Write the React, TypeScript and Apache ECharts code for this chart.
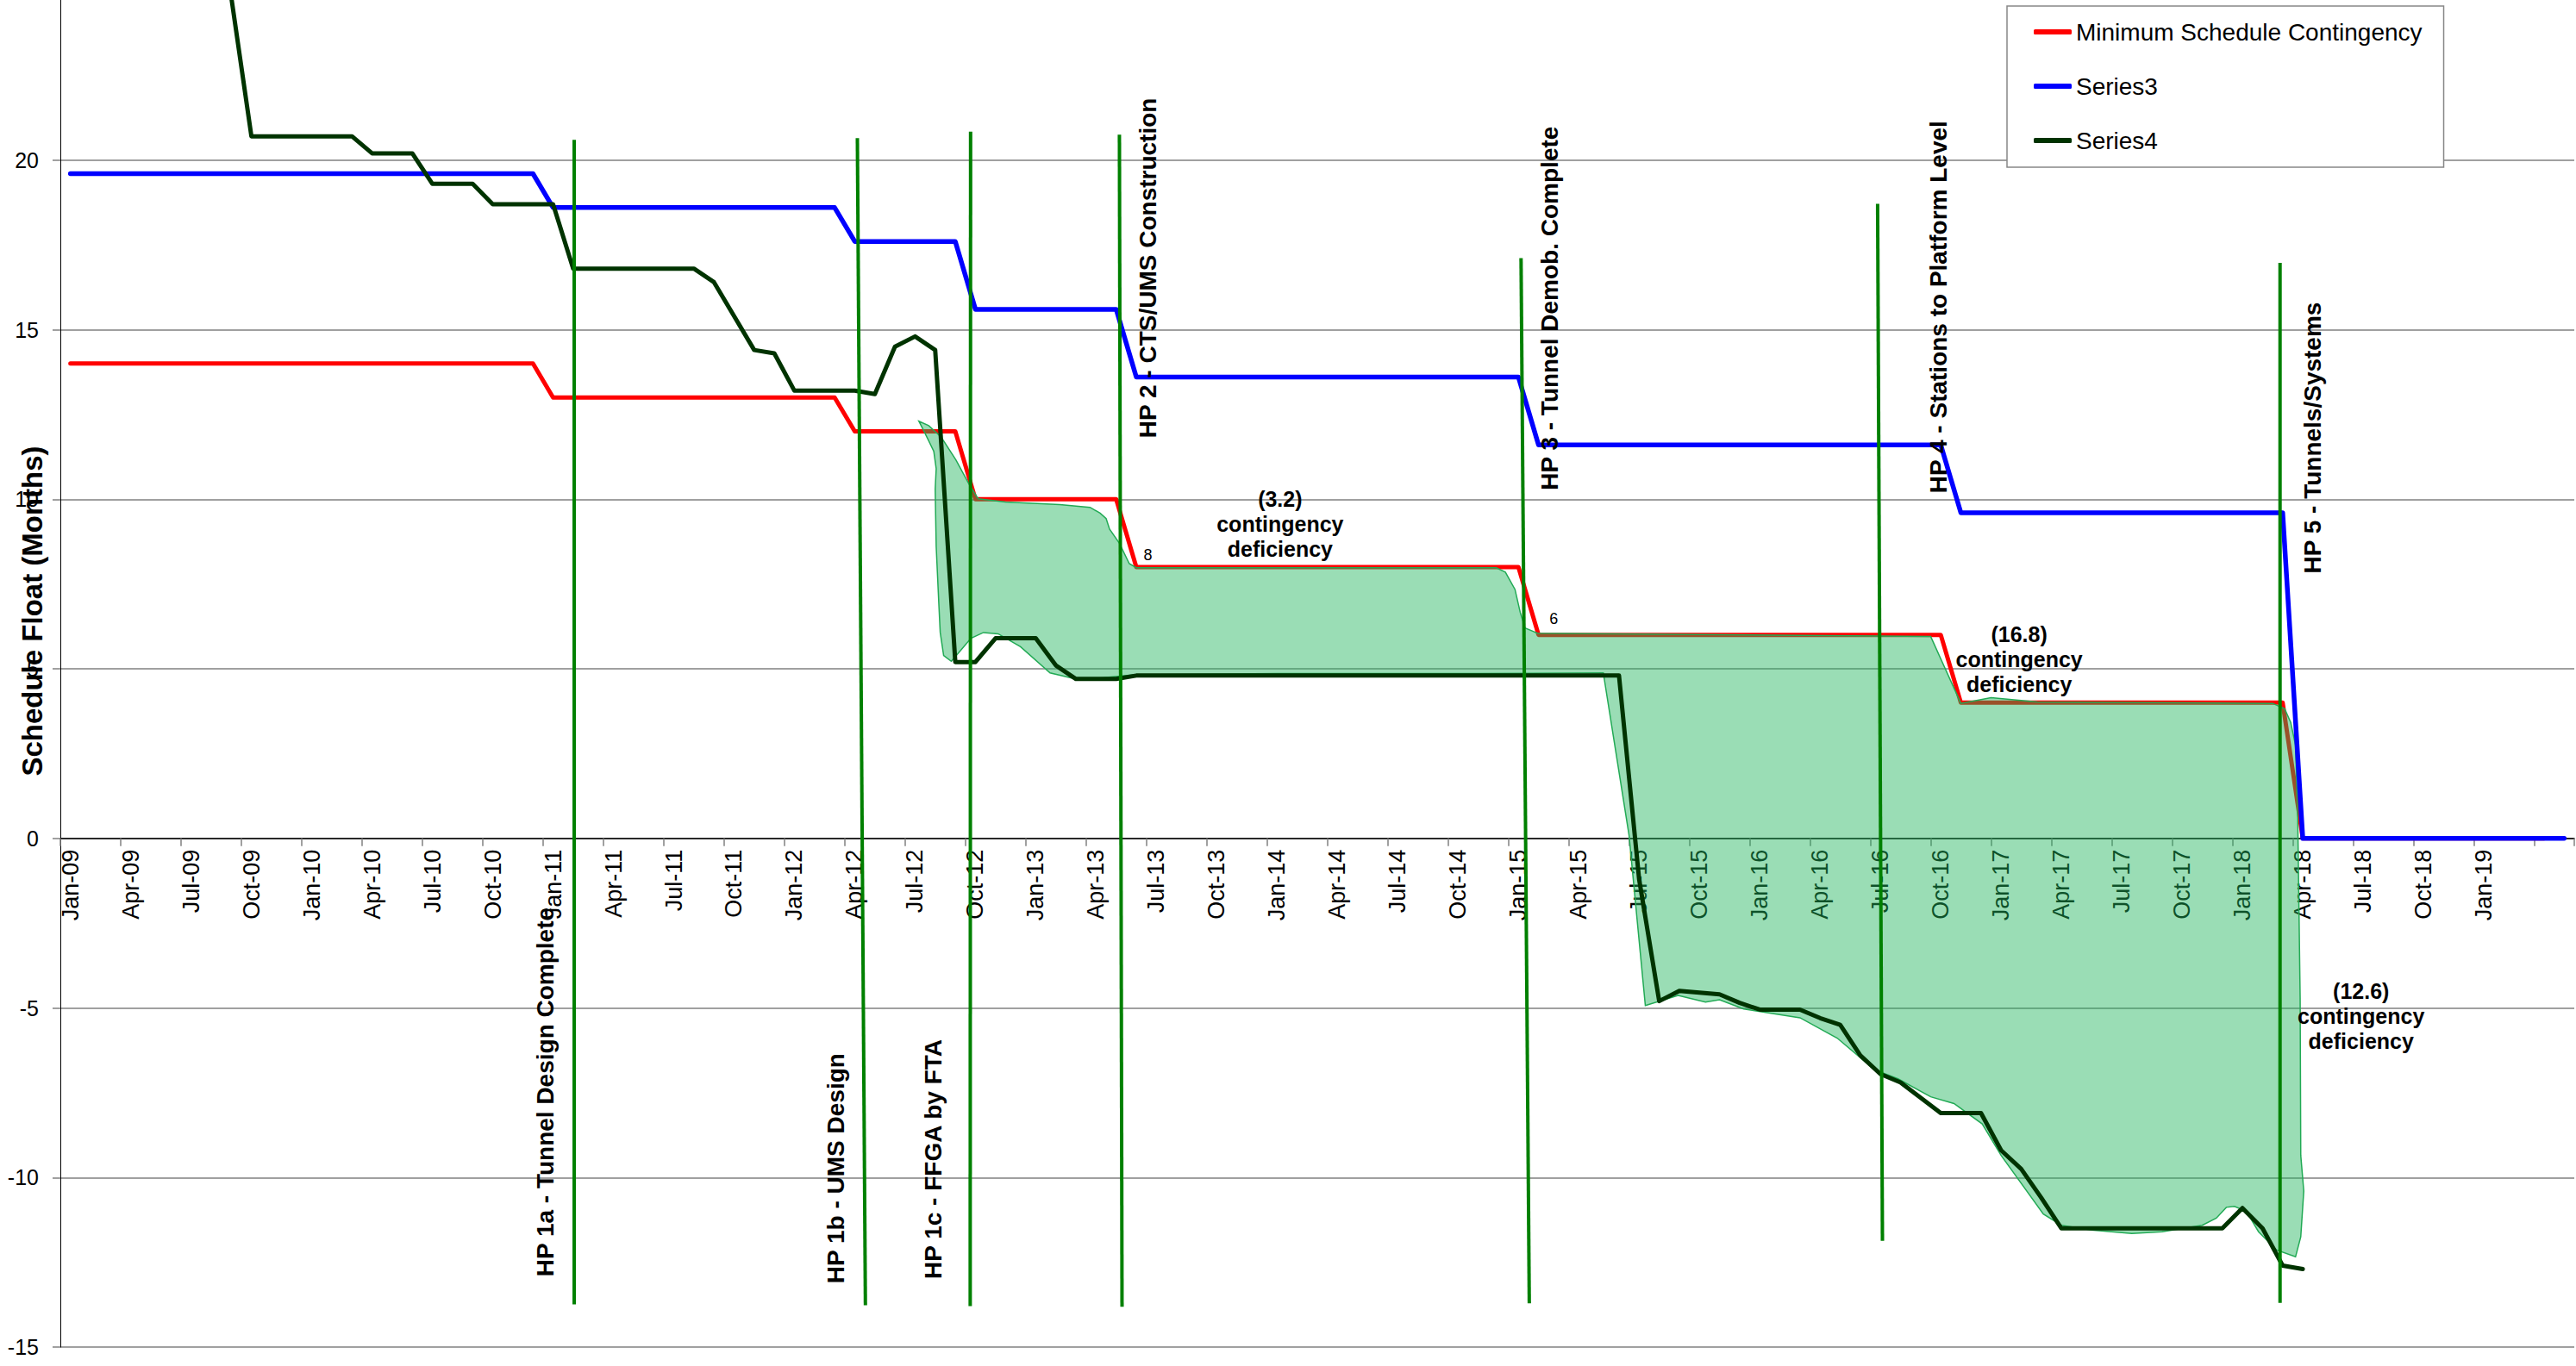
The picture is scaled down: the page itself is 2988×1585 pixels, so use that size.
import React, { useEffect, useRef } from "react";
import * as echarts from "echarts";

// ---------- categories (monthly, Jan-09 .. May-19) ----------
const MONTHS = ["Jan", "Feb", "Mar", "Apr", "May", "Jun", "Jul", "Aug", "Sep", "Oct", "Nov", "Dec"];
const categories: string[] = [];
for (let y = 9; y <= 19; y++) {
  for (const m of MONTHS) categories.push(`${m}-${String(y).padStart(2, "0")}`);
}
categories.length = 125;

// ---------- series values (one per month) ----------
const minContingency: (number | null)[] = [
  14, 14, 14, 14, 14, 14, 14, 14, 14, 14, 14, 14, 14, 14, 14, 14, 14, 14, 14, 14, 14, 14, 14, 14,
  13, 13, 13, 13, 13, 13, 13, 13, 13, 13, 13, 13, 13, 13, 13,
  12, 12, 12, 12, 12, 12,
  10, 10, 10, 10, 10, 10, 10, 10,
  8, 8, 8, 8, 8, 8, 8, 8, 8, 8, 8, 8, 8, 8, 8, 8, 8, 8, 8, 8,
  6, 6, 6, 6, 6, 6, 6, 6, 6, 6, 6, 6, 6, 6, 6, 6, 6, 6, 6, 6, 6,
  4, 4, 4, 4, 4, 4, 4, 4, 4, 4, 4, 4, 4, 4, 4, 4, 4,
  0, 0, 0, 0, 0, 0, 0, 0, 0, 0, 0, 0, 0,
  null,
];

const series3: (number | null)[] = [
  19.6, 19.6, 19.6, 19.6, 19.6, 19.6, 19.6, 19.6, 19.6, 19.6, 19.6, 19.6, 19.6, 19.6, 19.6, 19.6, 19.6, 19.6, 19.6, 19.6, 19.6, 19.6, 19.6, 19.6,
  18.6, 18.6, 18.6, 18.6, 18.6, 18.6, 18.6, 18.6, 18.6, 18.6, 18.6, 18.6, 18.6, 18.6, 18.6,
  17.6, 17.6, 17.6, 17.6, 17.6, 17.6,
  15.6, 15.6, 15.6, 15.6, 15.6, 15.6, 15.6, 15.6,
  13.6, 13.6, 13.6, 13.6, 13.6, 13.6, 13.6, 13.6, 13.6, 13.6, 13.6, 13.6, 13.6, 13.6, 13.6, 13.6, 13.6, 13.6, 13.6, 13.6,
  11.6, 11.6, 11.6, 11.6, 11.6, 11.6, 11.6, 11.6, 11.6, 11.6, 11.6, 11.6, 11.6, 11.6, 11.6, 11.6, 11.6, 11.6, 11.6, 11.6, 11.6,
  9.6, 9.6, 9.6, 9.6, 9.6, 9.6, 9.6, 9.6, 9.6, 9.6, 9.6, 9.6, 9.6, 9.6, 9.6, 9.6, 9.6,
  0, 0, 0, 0, 0, 0, 0, 0, 0, 0, 0, 0, 0, 0,
];

const series4: (number | null)[] = [
  null, null, null, null, null, null, null, null,
  24.8,
  20.7, 20.7, 20.7, 20.7, 20.7, 20.7,
  20.2, 20.2, 20.2,
  19.3, 19.3, 19.3,
  18.7, 18.7, 18.7, 18.7,
  16.8, 16.8, 16.8, 16.8, 16.8, 16.8, 16.8,
  16.4, 15.4, 14.4, 14.3,
  13.2, 13.2, 13.2, 13.2,
  13.1, 14.5, 14.8, 14.4,
  5.2, 5.2, 5.9, 5.9, 5.9, 5.1, 4.7, 4.7, 4.7,
  4.8, 4.8, 4.8, 4.8, 4.8, 4.8, 4.8, 4.8, 4.8, 4.8, 4.8, 4.8, 4.8, 4.8, 4.8, 4.8, 4.8, 4.8, 4.8, 4.8, 4.8, 4.8, 4.8, 4.8, 4.8,
  -1.2, -4.8, -4.5, -4.55, -4.6, -4.85, -5.05, -5.05, -5.05, -5.3, -5.5, -6.4, -6.95, -7.2, -7.65, -8.1, -8.1, -8.1, -9.2, -9.75, -10.6,
  -11.5, -11.5, -11.5, -11.5, -11.5, -11.5, -11.5, -11.5, -11.5,
  -10.9, -11.5, -12.6, -12.7,
  null, null, null, null, null, null, null, null, null, null, null, null, null,
];

// ---------- annotations (in data coordinates: month index, months) ----------
const hpLabelText = [
  "HP 1a - Tunnel Design Complete",
  "HP 1b - UMS Design",
  "HP 1c - FFGA by FTA",
  "HP 2 - CTS/UMS Construction",
  "HP 3 - Tunnel Demob. Complete",
  "HP 4 - Stations to Platform Level",
  "HP 5 - Tunnels/Systems",
];
const hpLabelX = [23.63, 38.08, 42.9, 53.57, 73.57, 92.88, 111.5];
const hpLabelY = [-7.48, -9.73, -9.46, 16.82, 15.63, 15.67, 11.81];

const hpLineX1 = [25.05, 39.13, 44.76, 52.16, 72.13, 89.86, 109.87];
const hpLineY1 = [20.6, 20.65, 20.84, 20.75, 17.11, 18.71, 16.97];
const hpLineX2 = [25.05, 39.53, 44.74, 52.29, 72.54, 90.1, 109.87];
const hpLineY2 = [-13.74, -13.77, -13.79, -13.81, -13.71, -11.87, -13.7];

const noteText = [
  "(3.2)\ncontingency\ndeficiency",
  "(16.8)\ncontingency\ndeficiency",
  "(12.6)\ncontingency\ndeficiency",
];
const noteX = [60.15, 96.9, 113.9];
const noteY = [9.28, 5.29, -5.25];

const stepLabelText = ["8", "6"];
const stepLabelX = [53.58, 73.76];
const stepLabelY = [8.36, 6.48];

// shaded deficiency region (freehand outline)
const bandUpper: [number, number][] = [
  [42.19, 12.3], [42.68, 12.17], [43.3, 11.83], [44.03, 11.16], [44.65, 10.48], [45.14, 10.01],
  [46.5, 9.92], [49.2, 9.84], [50.7, 9.76], [51.2, 9.59], [51.5, 9.43], [51.67, 9.12], [52.16, 8.7],
  [52.65, 8.1], [53.0, 7.98], [70.9, 7.98], [71.35, 7.85], [71.83, 7.34], [72.09, 6.66], [72.33, 6.2],
  [72.95, 6.05], [92.5, 5.95], [94.0, 3.98], [95.5, 4.15], [97.8, 4.02], [109.5, 3.98], [110.1, 3.82],
  [110.4, 3.42], [110.64, 2.75], [110.75, 0.6], [110.87, -4.7], [110.9, -9.35], [111.05, -10.4],
  [110.9, -11.75], [110.64, -12.34],
];
const bandLower: [number, number][] = [
  [42.45, 12.0], [42.93, 11.41], [43.05, 10.9], [43.0, 10.3], [43.05, 8.6], [43.18, 6.92], [43.25, 6.07],
  [43.42, 5.39], [43.8, 5.22], [44.29, 5.56], [44.78, 5.9], [45.4, 6.07], [46.13, 6.03], [47.24, 5.65],
  [48.71, 4.88], [50.19, 4.67], [52.9, 4.82], [60, 4.86], [70, 4.86], [76.22, 4.88], [77.5, 0.09],
  [78.31, -4.93], [79.94, -4.63], [81.3, -4.83], [82.0, -4.76], [83.2, -5.03], [86.0, -5.29],
  [87.85, -5.89], [89.7, -6.82], [90.87, -7.09], [92.5, -7.62], [93.66, -7.82], [95.06, -8.42],
  [96.0, -9.35], [98.1, -11.08], [99.0, -11.41], [100.5, -11.55], [102.5, -11.65], [104, -11.6],
  [106.0, -11.41], [106.7, -11.2], [107.2, -10.88], [107.6, -10.85], [108.2, -11.0], [108.8, -11.6],
  [109.7, -12.14],
];

const FONT = "'Liberation Sans', Arial, sans-serif";

// grid geometry (pixels)
const GRID_TOP = -11;
const GRID_BOTTOM = 22;
const CHART_H = 1585;
const Y_MIN = -15;
const Y_MAX = 25;

export default function App() {
  const ref = useRef<HTMLDivElement>(null);

  useEffect(() => {
    document.body.style.margin = "0";
    const chart = echarts.init(ref.current as HTMLDivElement, null, { renderer: "svg" });

    // place the category axis on the zero line of the value axis
    const plotH = CHART_H - GRID_TOP - GRID_BOTTOM;
    const zeroOffset = -(plotH * (0 - Y_MIN)) / (Y_MAX - Y_MIN);

    const lineCommon = {
      type: "line",
      showSymbol: false,
      symbol: "none",
      connectNulls: false,
      silent: true,
    };

    const option: any = {
      animation: false,
      backgroundColor: "#ffffff",
      textStyle: { fontFamily: FONT },
      grid: { left: 70, right: 2, top: GRID_TOP, bottom: GRID_BOTTOM, containLabel: false, outerBoundsMode: "none" },
      legend: {
        data: ["Minimum Schedule Contingency", "Series3", "Series4"],
        orient: "vertical",
        left: 2328,
        top: 7,
        padding: [14, 25, 15, 31],
        itemGap: 31,
        itemWidth: 44,
        itemHeight: 6,
        icon: "roundRect",
        backgroundColor: "#ffffff",
        borderColor: "#888888",
        borderWidth: 1.5,
        textStyle: { fontSize: 28, color: "#000", fontFamily: FONT, lineHeight: 32 },
      },
      graphic: [
        {
          type: "text",
          x: 37,
          y: 709,
          rotation: Math.PI / 2,
          z: 10,
          style: {
            text: "Schedule Float (Months)",
            fontSize: 33,
            fontWeight: "bold",
            fontFamily: FONT,
            fill: "#000",
            align: "center",
            verticalAlign: "middle",
          },
        },
      ],
      xAxis: [
        {
          type: "category",
          data: categories,
          boundaryGap: true,
          position: "bottom",
          offset: zeroOffset,
          axisLine: { onZero: false, lineStyle: { color: "#000", width: 1.5 } },
          axisTick: {
            show: true,
            alignWithLabel: false,
            interval: (i: number) => i % 3 === 0,
            length: 9,
            lineStyle: { color: "#808080", width: 1.5 },
          },
          axisLabel: {
            interval: (i: number) => i % 3 === 0 && i <= 120,
            rotate: 90,
            margin: 13,
            fontSize: 27,
            color: "#000",
            fontFamily: FONT,
          },
          splitLine: { show: false },
        },
        { type: "value", min: -0.5, max: 124.5, show: false },
      ],
      yAxis: {
        type: "value",
        min: Y_MIN,
        max: Y_MAX,
        interval: 5,
        axisLine: { show: true, onZero: false, lineStyle: { color: "#000", width: 1 } },
        axisTick: { show: true, length: 9, lineStyle: { color: "#808080", width: 1.5 } },
        axisLabel: { fontSize: 25, margin: 25, color: "#000", fontFamily: FONT, showMaxLabel: false },
        splitLine: { show: true, lineStyle: { color: "#a0a0a0", width: 2 } },
      },
      series: [
        {
          ...lineCommon,
          name: "Minimum Schedule Contingency",
          data: minContingency,
          z: 2,
          lineStyle: { color: "#ff0000", width: 5, cap: "round", join: "round" },
          itemStyle: { color: "#ff0000" },
        },
        {
          type: "custom",
          xAxisIndex: 1,
          yAxisIndex: 0,
          silent: true,
          z: 3,
          data: [[0, 0]],
          encode: { x: 0, y: 1 },
          renderItem: (params: any, api: any) => {
            const pts = bandUpper.concat(bandLower.slice().reverse()).map((p) => api.coord(p));
            return {
              type: "polygon",
              shape: { points: pts },
              style: { fill: "rgba(30,180,90,0.45)", stroke: "#22aa55", lineWidth: 1.5 },
            };
          },
        },
        {
          ...lineCommon,
          name: "Series3",
          data: series3,
          z: 4,
          lineStyle: { color: "#0000ff", width: 5.5, cap: "round", join: "round" },
          itemStyle: { color: "#0000ff" },
        },
        {
          ...lineCommon,
          name: "Series4",
          data: series4,
          z: 4,
          lineStyle: { color: "#003300", width: 5, cap: "round", join: "round" },
          itemStyle: { color: "#003300" },
        },
        {
          type: "custom",
          xAxisIndex: 1,
          yAxisIndex: 0,
          silent: true,
          z: 5,
          data: hpLineX1.map((x, i) => [x, hpLineY1[i], hpLineX2[i], hpLineY2[i]]),
          encode: { x: [0, 2], y: [1, 3] },
          renderItem: (params: any, api: any) => {
            const p1 = api.coord([api.value(0), api.value(1)]);
            const p2 = api.coord([api.value(2), api.value(3)]);
            return {
              type: "line",
              shape: { x1: p1[0], y1: p1[1], x2: p2[0], y2: p2[1] },
              style: { stroke: "#008000", lineWidth: 4 },
            };
          },
        },
        {
          type: "custom",
          xAxisIndex: 1,
          yAxisIndex: 0,
          silent: true,
          z: 6,
          data: hpLabelX.map((x, i) => [x, hpLabelY[i]]),
          encode: { x: 0, y: 1 },
          renderItem: (params: any, api: any) => {
            const p = api.coord([api.value(0), api.value(1)]);
            return {
              type: "text",
              x: p[0],
              y: p[1],
              rotation: Math.PI / 2,
              style: {
                text: hpLabelText[params.dataIndex],
                fontSize: 28,
                fontWeight: "bold",
                fontFamily: FONT,
                fill: "#000",
                align: "center",
                verticalAlign: "middle",
              },
            };
          },
        },
        {
          type: "custom",
          xAxisIndex: 1,
          yAxisIndex: 0,
          silent: true,
          z: 6,
          data: noteX.map((x, i) => [x, noteY[i]]),
          encode: { x: 0, y: 1 },
          renderItem: (params: any, api: any) => {
            const p = api.coord([api.value(0), api.value(1)]);
            return {
              type: "text",
              x: p[0],
              y: p[1],
              style: {
                text: noteText[params.dataIndex],
                fontSize: 25,
                fontWeight: "bold",
                lineHeight: 29,
                fontFamily: FONT,
                fill: "#000",
                align: "center",
                verticalAlign: "middle",
              },
            };
          },
        },
        {
          type: "custom",
          xAxisIndex: 1,
          yAxisIndex: 0,
          silent: true,
          z: 6,
          data: stepLabelX.map((x, i) => [x, stepLabelY[i]]),
          encode: { x: 0, y: 1 },
          renderItem: (params: any, api: any) => {
            const p = api.coord([api.value(0), api.value(1)]);
            return {
              type: "text",
              x: p[0],
              y: p[1],
              style: {
                text: stepLabelText[params.dataIndex],
                fontSize: 18,
                fontFamily: FONT,
                fill: "#000",
                align: "center",
                verticalAlign: "middle",
              },
            };
          },
        },
      ],
    };

    chart.setOption(option);
    return () => chart.dispose();
  }, []);

  return <div ref={ref} style={{ width: 2988, height: 1585 }} />;
}
